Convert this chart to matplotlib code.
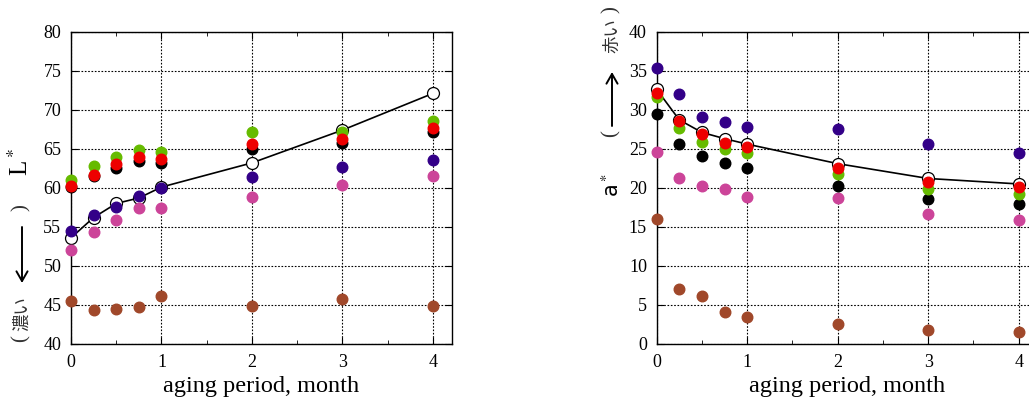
import numpy as np
import matplotlib
matplotlib.use("Agg")
import matplotlib.pyplot as plt
from matplotlib.ticker import MultipleLocator

plt.rcParams['font.family'] = ['Liberation Serif', 'Noto Sans CJK JP', 'DejaVu Sans']
plt.rcParams['mathtext.fontset'] = 'stix'

# aging period (month)
months = [0, 0.25, 0.5, 0.75, 1, 2, 3, 4]

# L* values
L_open = [53.6, 56.2, 58.0, 58.7, 60.1, 63.2, 67.4, 72.1]
L_green = [61.0, 62.8, 63.9, 64.8, 64.6, 67.2, 67.1, 68.6]
L_black = [60.1, 61.5, 62.5, 63.4, 63.2, 65.0, 65.7, 67.1]
L_red = [60.2, 61.7, 63.0, 63.9, 63.7, 65.6, 66.2, 67.7]
L_purple = [54.5, 56.5, 57.6, 59.0, 60.0, 61.4, 62.7, 63.6]
L_pink = [52.1, 54.3, 55.9, 57.4, 57.4, 58.8, 60.4, 61.5]
L_brown = [45.5, 44.3, 44.5, 44.7, 46.2, 44.9, 45.7, 44.9]

# a* values
a_open = [32.6, 28.7, 27.1, 26.3, 25.6, 23.1, 21.2, 20.5]
a_green = [31.6, 27.7, 25.9, 25.0, 24.4, 21.8, 19.9, 19.2]
a_black = [29.5, 25.6, 24.1, 23.2, 22.6, 20.3, 18.6, 17.9]
a_red = [32.2, 28.6, 26.9, 25.7, 25.2, 22.5, 20.7, 20.1]
a_purple = [35.4, 32.0, 29.1, 28.4, 27.8, 27.5, 25.6, 24.4]
a_pink = [24.6, 21.3, 20.2, 19.8, 18.8, 18.7, 16.6, 15.9]
a_brown = [16.0, 7.1, 6.1, 4.1, 3.5, 2.5, 1.8, 1.5]

c_green = '#66bb00'
c_black = '#000000'
c_red = '#ee0000'
c_purple = '#330088'
c_pink = '#cc4499'
c_brown = '#a0482a'

W, H = 1029, 408
fig = plt.figure(figsize=(W / 100, H / 100), dpi=100)

ax1 = fig.add_axes([71 / W, (H - 344) / H, 381 / W, 312.3 / H])
ax2 = fig.add_axes([656.7 / W, (H - 344) / H, 381 / W, 312.3 / H])

ms = 7.6


def draw(ax, op, series, ylim, ystep):
    ax.plot(months, op, '-', color='black', lw=1.2, zorder=3)
    for vals, col in series:
        ax.plot(months, vals, 'o', color=col, ms=ms, mec=col, zorder=4, clip_on=False)
    ax.plot(months, op, 'o', mfc='white', mec='black', ms=ms + 1, mew=0.9, zorder=3.5, clip_on=False)
    ax.set_xlim(0, 4.21)
    ax.set_ylim(*ylim)
    ax.set_xticks([0, 1, 2, 3, 4])
    ax.xaxis.set_minor_locator(MultipleLocator(0.5))
    ax.yaxis.set_major_locator(MultipleLocator(ystep))
    ax.grid(True, which='major', ls=(0, (1.5, 1.5)), color='black', lw=0.8)
    ax.tick_params(which='both', direction='in', top=True, right=True, labelsize=13, pad=7)
    ax.tick_params(which='major', length=5)
    ax.tick_params(which='minor', length=3)
    for s in ax.spines.values():
        s.set_linewidth(1.0)
    ax.set_xlabel('aging period, month', fontsize=17.5, labelpad=4)


draw(ax1, L_open,
     [(L_green, c_green), (L_black, c_black), (L_red, c_red),
      (L_purple, c_purple), (L_pink, c_pink), (L_brown, c_brown)],
     (40, 80), 5)
draw(ax2, a_open,
     [(a_purple, c_purple), (a_pink, c_pink), (a_brown, c_brown),
      (a_black, c_black), (a_green, c_green), (a_red, c_red)],
     (0, 40), 5)


def ft(x, y, s, **kw):
    fig.text(x / W, 1 - y / H, s, rotation=90, ha='center', va='center', **kw)


def arrow(x, y0, y1):
    fig.patches.append(matplotlib.patches.FancyArrowPatch(
        (x / W, 1 - y0 / H), (x / W, 1 - y1 / H), transform=fig.transFigure,
        arrowstyle='->,head_length=0.7,head_width=0.4', color='black', lw=1.4,
        mutation_scale=10, shrinkA=0, shrinkB=0))


jp = dict(fontsize=12.5, color='#333333', family=['Noto Sans CJK JP'])
par = dict(fontsize=15, color='#333333', family=['Liberation Serif'])

# left y label
ft(20, 162, 'L$^*$', fontsize=18)
ft(21, 208, ')', **par)
arrow(22, 227, 283)
ft(22, 314, '濃い', **jp)
ft(21, 339, '(', **par)

# right y label
ft(612, 185, 'a$^*$', fontsize=15, family=['DejaVu Sans'])
ft(611, 134, '(', **par)
arrow(612, 126, 72)
ft(612, 36, '赤い', **jp)
ft(611, 10, ')', **par)

fig.savefig('out.png', dpi=100)
